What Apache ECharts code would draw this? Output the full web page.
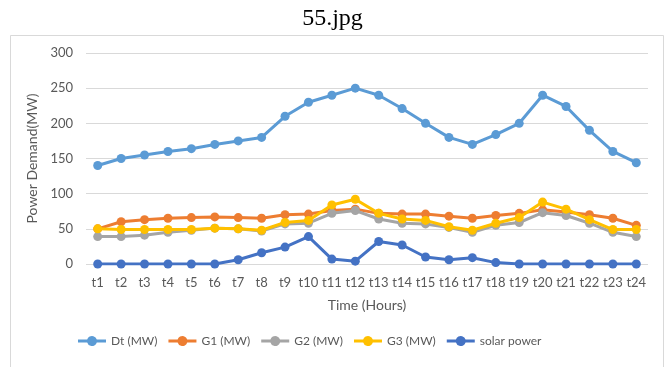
<!DOCTYPE html>
<html>
<head>
<meta charset="utf-8">
<script src="https://cdn.jsdelivr.net/npm/echarts@6/dist/echarts.min.js"></script>
<style>
  html, body { margin: 0; padding: 0; background: #fff; }
  #chart { width: 665px; height: 367px; }
</style>
</head>
<body>
<div id="chart"></div>
<script>
// Hourly time slots
const hours = ['t1','t2','t3','t4','t5','t6','t7','t8','t9','t10','t11','t12',
               't13','t14','t15','t16','t17','t18','t19','t20','t21','t22','t23','t24'];

// Demand and generation per hour (MW)
const demand = [140,150,155,160,164,170,175,180,210,230,240,250,240,221,200,180,170,184,200,240,224,190,160,144];
const gen1   = [50,60,63,65,66,67,66,65,70,71,76,78,72,71,71,68,65,69,72,77,74,70,65,55];
const gen2   = [39,39,41,45,48,51,50,47,57,58,72,76,64,58,57,52,45,55,59,73,69,58,45,39];
const gen3   = [50,49,49,49,49,51,50,48,59,62,84,92,72,64,62,53,48,58,66,88,78,63,49,49];
const solar  = [0,0,0,0,0,0,6,16,24,39,7,4,32,27,10,6,9,2,0,0,0,0,0,0];

const yTicks = { min: 0, max: 300, interval: 50 };

const palette = {
  demand: '#5B9BD5',
  gen1: '#ED7D31',
  gen2: '#A5A5A5',
  gen3: '#FFC000',
  solar: '#4472C4'
};

const font = 'Lato, "Open Sans", sans-serif';

// legend glyph: a short line with a dot in its middle
const lineDotIcon = 'path://M0,3.6 L9.2,3.6 A5,5 0 0,1 18.8,3.6 L28,3.6 L28,6.4 L18.8,6.4 A5,5 0 0,1 9.2,6.4 L0,6.4 Z';

function lineSeries(name, data, color, z) {
  return {
    name, type: 'line', data, z,
    symbol: 'circle', symbolSize: 9,
    lineStyle: { width: 3, color },
    itemStyle: { color },
    emphasis: { disabled: true },
    animation: false
  };
}

const chart = echarts.init(document.getElementById('chart'), null, { renderer: 'canvas' });
chart.setOption({
  backgroundColor: '#fff',
  title: {
    text: '55.jpg', left: 'center', top: 2,
    textStyle: { fontFamily: '"Liberation Serif", "DejaVu Serif", serif', fontSize: 24, fontWeight: 'normal', color: '#000' }
  },
  graphic: [{
    type: 'rect', silent: true, z: -1,
    shape: { x: 10.5, y: 35.5, width: 653, height: 345 },
    style: { fill: 'none', stroke: '#d9d9d9', lineWidth: 1 }
  }],
  grid: { left: 86, right: 17, top: 53, bottom: 103 },
  legend: {
    bottom: 15, left: 73,
    itemWidth: 28, itemHeight: 10, itemGap: 11,
    icon: lineDotIcon,
    textStyle: { fontFamily: font, fontSize: 12, color: '#595959' },
    data: ['Dt (MW)', 'G1 (MW)', 'G2 (MW)', 'G3 (MW)', 'solar power']
  },
  xAxis: {
    type: 'category', data: hours, boundaryGap: true,
    name: 'Time (Hours)', nameLocation: 'middle', nameGap: 34,
    nameTextStyle: { fontFamily: font, fontSize: 14, color: '#595959' },
    axisLine: { show: false },
    axisTick: { show: false },
    axisLabel: { fontFamily: font, fontSize: 13, color: '#595959', margin: 12, interval: 0 }
  },
  yAxis: {
    type: 'value', min: yTicks.min, max: yTicks.max, interval: yTicks.interval,
    name: 'Power Demand(MW)', nameLocation: 'middle', nameGap: 38,
    nameTextStyle: { fontFamily: font, fontSize: 14, color: '#595959' },
    axisLine: { show: false },
    axisTick: { show: false },
    axisLabel: { fontFamily: font, fontSize: 13, color: '#595959', margin: 13 },
    splitLine: { lineStyle: { color: '#d9d9d9', width: 1 } }
  },
  series: [
    lineSeries('Dt (MW)', demand, palette.demand, 2),
    lineSeries('G1 (MW)', gen1, palette.gen1, 3),
    lineSeries('G2 (MW)', gen2, palette.gen2, 4),
    lineSeries('G3 (MW)', gen3, palette.gen3, 5),
    lineSeries('solar power', solar, palette.solar, 6)
  ]
});
</script>
</body>
</html>
